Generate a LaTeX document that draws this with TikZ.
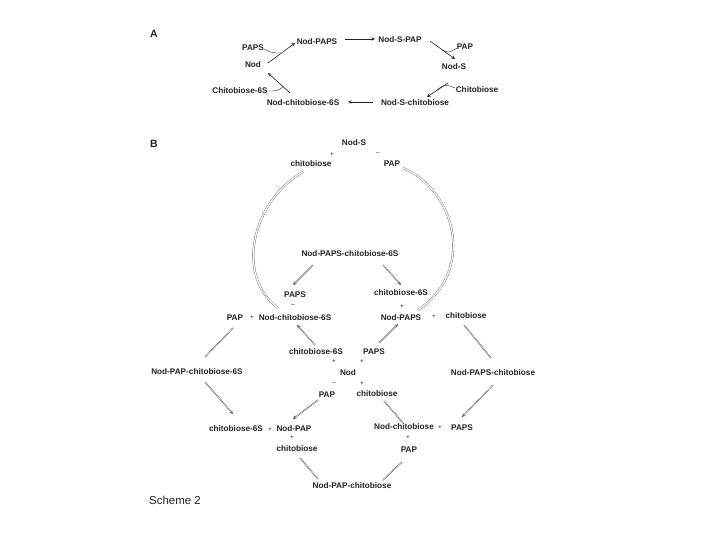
\documentclass[tikz,border=0pt]{standalone}
\usepackage{fontspec}
\setsansfont{Liberation Sans}
\definecolor{InkGray}{HTML}{222222}
\definecolor{EqGray}{HTML}{5A5A5A}

\begin{document}
\begin{tikzpicture}[x=1pt,y=-1pt, >=stealth, every node/.style={font=\sffamily\bfseries\fontsize{8.2}{9}\selectfont, color=InkGray, inner sep=1pt},
    headline/.style={font=\sffamily\bfseries\fontsize{10.5}{12}\selectfont},
    stepline/.style={draw=InkGray, line width=0.6pt, ->},
    sideline/.style={draw=InkGray, line width=0.4pt},
    eqplain/.style={draw=EqGray, double, double distance=0.3pt, line width=0.45pt},
    eqline/.style={eqplain, ->},
    ringline/.style={draw=EqGray, double, double distance=1.3pt, line width=0.35pt}]
  \useasboundingbox (0,0) rectangle (720,540);
  \node[headline] (labelA) at (154,34) {A};
  \node[headline] (labelB) at (154,144) {B};
  \node[font=\sffamily\fontsize{11.5}{13}\selectfont] (labelScheme) at (175,500) {Scheme 2};
  % part A
  \node (aPaps) at (253,48) {PAPS};
  \node (aNod) at (253,65) {Nod};
  \node (aNodPaps) at (317,42) {Nod-PAPS};
  \node (aNodSPap) at (400,40) {Nod-S-PAP};
  \node (aPap) at (465,47) {PAP};
  \node (aNodS) at (454,67) {Nod-S};
  \node (aChito) at (477,90) {Chitobiose};
  \node (aNodSChito) at (415,103) {Nod-S-chitobiose};
  \node (aNodChito6S) at (303,103) {Nod-chitobiose-6S};
  \node (aChito6S) at (240,91) {Chitobiose-6S};
  \coordinate (aJoinPaps) at (281,53);
  \coordinate (aJoinPap) at (442,50);
  \coordinate (aJoinChito) at (437,90);
  \coordinate (aJoinChito6S) at (283,87);
  \draw[stepline] ([shift={(15,-2)}]aNod.center) -- ([shift={(-22,1)}]aNodPaps.center);
  \draw[stepline] ([shift={(28,-3)}]aNodPaps.center) -- ([shift={(-25,-1)}]aNodSPap.center);
  \draw[stepline] ([shift={(30,1)}]aNodSPap.center) -- ([shift={(1,-8)}]aNodS.center);
  \draw[stepline] ([shift={(-6,16)}]aNodS.center) -- ([shift={(12,-6)}]aNodSChito.center);
  \draw[stepline] ([shift={(-42,-1)}]aNodSChito.center) -- ([shift={(45,-1)}]aNodChito6S.center);
  \draw[stepline] ([shift={(-13,-10)}]aNodChito6S.center) -- ([shift={(15,8)}]aNod.center);
  \draw[sideline] ([shift={(11,1)}]aPaps.center) .. controls (272,53) .. (aJoinPaps);
  \draw[sideline] ([shift={(-8,1)}]aPap.center) .. controls (449,53) .. (aJoinPap);
  \draw[sideline] ([shift={(-22,-2)}]aChito.center) .. controls (445,84) .. (aJoinChito);
  \draw[sideline] ([shift={(28,0)}]aChito6S.center) .. controls (277,91) .. (aJoinChito6S);
  % part B
  \node (bNodS) at (354,143) {Nod-S};
  \node (bChito) at (311,164) {chitobiose};
  \node (bPap) at (392,164) {PAP};
  \node (bNodPapsChito6S) at (350,254) {Nod-PAPS-chitobiose-6S};
  \node (bPaps) at (295,295) {PAPS};
  \node (bChito6STop) at (401,293) {chitobiose-6S};
  \node (bPapLeft) at (235,318) {PAP};
  \node (bNodChito6S) at (295,318) {Nod-chitobiose-6S};
  \node (bNodPaps) at (401,318) {Nod-PAPS};
  \node (bChitoRight) at (466,316) {chitobiose};
  \node (bNodPapChito6S) at (197,372) {Nod-PAP-chitobiose-6S};
  \node (bChito6SMid) at (316,352) {chitobiose-6S};
  \node (bPapsMid) at (374,352) {PAPS};
  \node (bNod) at (348,373) {Nod};
  \node (bNodPapsChito) at (493,373) {Nod-PAPS-chitobiose};
  \node (bPapMid) at (327,395) {PAP};
  \node (bChitoMid) at (377,394) {chitobiose};
  \node (bChito6SLow) at (236,429) {chitobiose-6S};
  \node (bNodPap) at (294,429) {Nod-PAP};
  \node (bNodChito) at (404,427) {Nod-chitobiose};
  \node (bPapsLow) at (462,428) {PAPS};
  \node (bChitoLow) at (297,449) {chitobiose};
  \node (bPapLow) at (409,450) {PAP};
  \node (bNodPapChito) at (352,486) {Nod-PAP-chitobiose};
  % signs between the species
  \foreach \x/\y/\s [count=\i] in {332/155/+,378/154/--,293/306/--,402/307/+,252/318/+,434/317/+,
      334/362/+,334/384/--,362/362/+,362/384/+,270/430/+,292/438/+,440/428/+,408/438/+} {
    \node[font=\sffamily\fontsize{6.5}{8}\selectfont] (sign\i) at (\x,\y) {\s};
  }
  % the two long arcs
  \draw[ringline] ([shift={(-8,8)}]bChito.center) .. controls (253,200) and (234,275) .. ([shift={(-17,-10)}]bNodChito6S.center);
  \draw[ringline] ([shift={(11,4)}]bPap.center) .. controls (455,190) and (477,270) .. ([shift={(17,-8)}]bNodPaps.center);
  % equilibria
  \draw[eqline] ([shift={(-37,11)}]bNodPapsChito6S.center) -- ([shift={(-2,-10)}]bPaps.center);
  \draw[eqline] ([shift={(33,11)}]bNodPapsChito6S.center) -- ([shift={(0,-8)}]bChito6STop.center);
  \draw[eqline] ([shift={(-1,-7)}]bChito6SMid.center) -- ([shift={(2,7)}]bNodChito6S.center);
  \draw[eqline] ([shift={(5,-9)}]bPapsMid.center) -- ([shift={(-3,6)}]bNodPaps.center);
  \draw[eqplain] ([shift={(8,-15)}]bNodPapChito6S.center) -- ([shift={(-2,10)}]bPapLeft.center);
  \draw[eqline] ([shift={(8,10)}]bNodPapChito6S.center) -- ([shift={(-3,-15)}]bChito6SLow.center);
  \draw[eqline] ([shift={(-9,5)}]bPapMid.center) -- ([shift={(-1,-10)}]bNodPap.center);
  \draw[eqplain] ([shift={(-34,-7)}]bNodPapChito.center) -- ([shift={(3,9)}]bChitoLow.center);
  \draw[eqplain] ([shift={(-29,-48)}]bNodPapsChito.center) -- ([shift={(-2,-15)}]bNodPapsChito.center);
  \draw[eqline] ([shift={(0,12)}]bNodPapsChito.center) -- ([shift={(0,-11)}]bPapsLow.center);
  \draw[eqplain] ([shift={(7,7)}]bChitoMid.center) -- ([shift={(-1,-4)}]bNodChito.center);
  \draw[eqplain] ([shift={(-7,12)}]bPapLow.center) -- ([shift={(31,-6)}]bNodPapChito.center);
\end{tikzpicture}
\end{document}
